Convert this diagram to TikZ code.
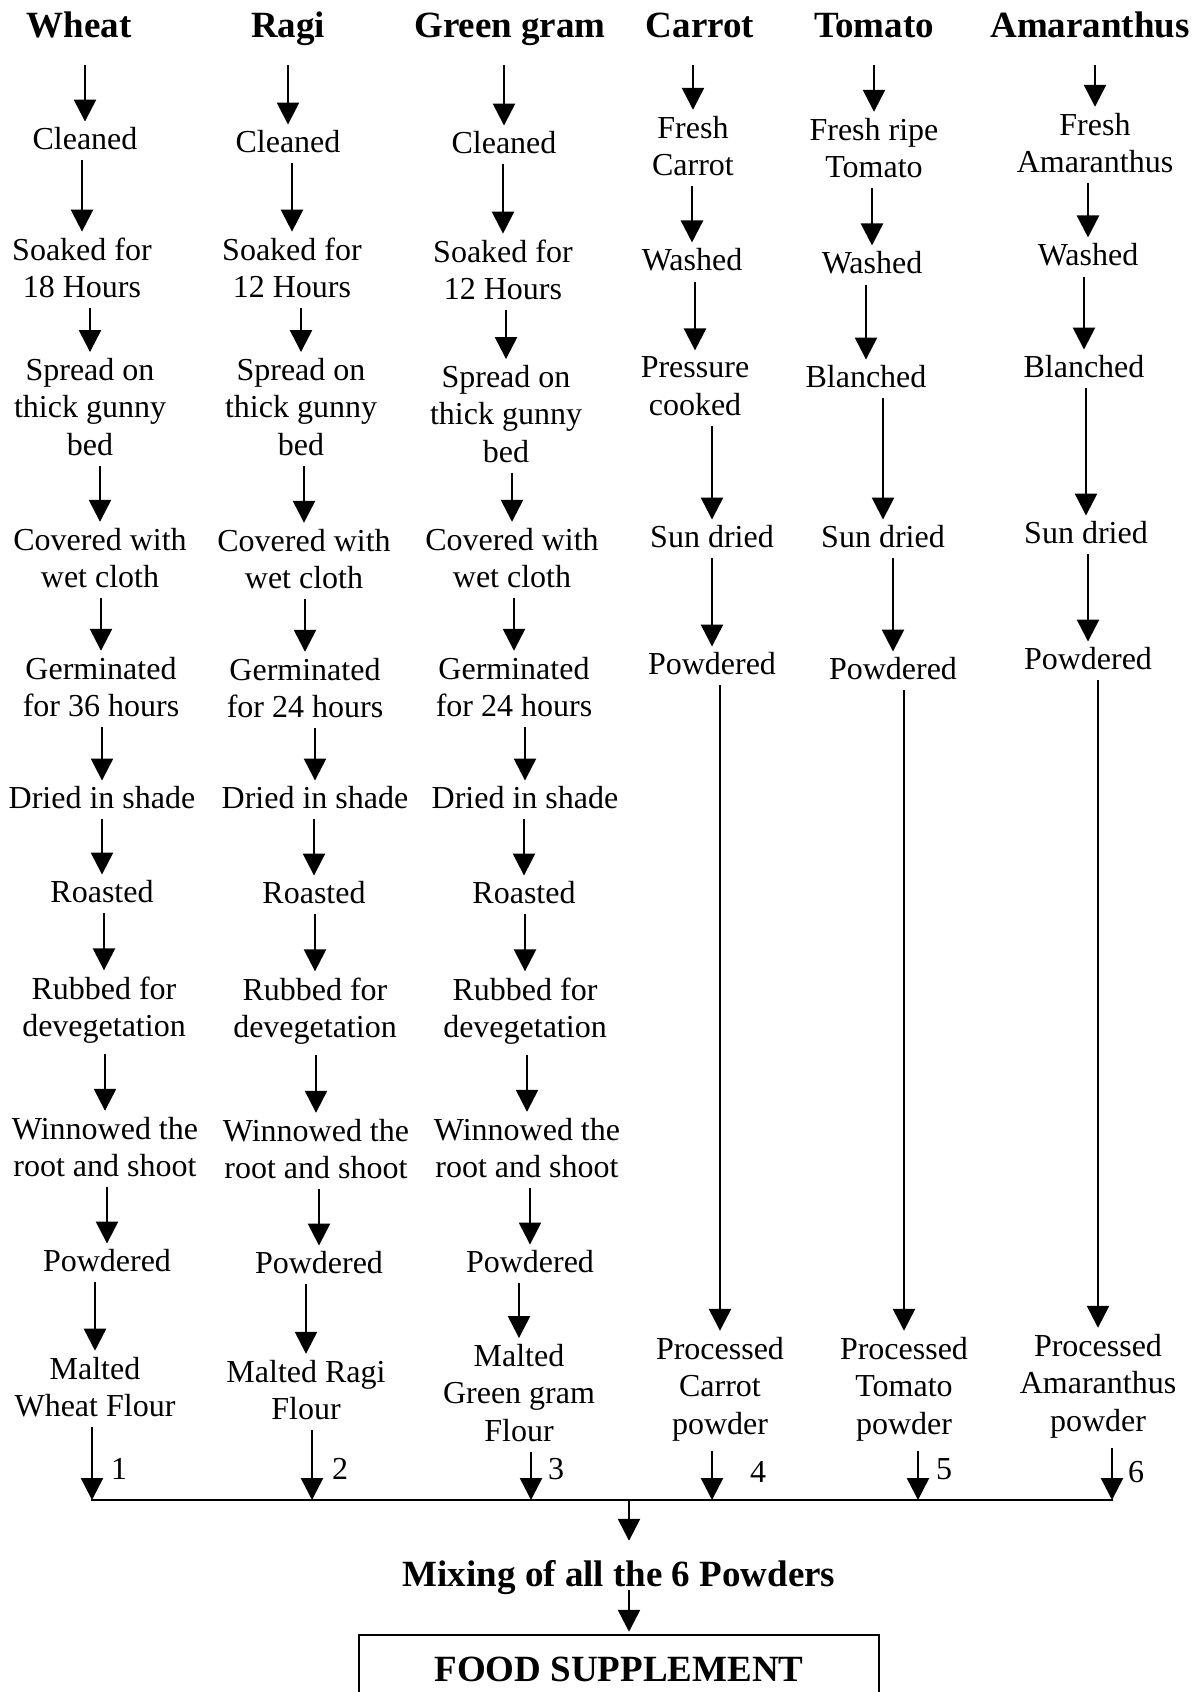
\documentclass[tikz,border=0pt]{standalone}
\usepackage{fontspec}
\setmainfont{Liberation Serif}
\usepackage{tikz}
\usetikzlibrary{arrows.meta}

\tikzset{
  stage/.style={align=center, inner sep=0pt, font=\fontsize{32}{37.5}\selectfont},
  crop/.style={inner sep=0pt, text height=26pt, text depth=0pt, font=\fontsize{37}{42}\selectfont\bfseries},
  num/.style={inner sep=0pt, font=\fontsize{32}{37.5}\selectfont},
  flow/.style={line width=2.5pt, -{Triangle[width=22pt,length=22pt]}, shorten <=10pt, shorten >=6pt},
}

\begin{document}
\begin{tikzpicture}[x=1pt, y=-1pt]
  \useasboundingbox (0,0) rectangle (1203,1692);

  % Headers
  \node[crop] (wh) at (79,24) {Wheat};
  \node[crop] (rh) at (288,24) {Ragi};
  \node[crop] (gh) at (510,24) {Green gram};
  \node[crop] (ch) at (700,24) {Carrot};
  \node[crop] (th) at (874,24) {Tomato};
  \node[crop] (ah) at (1090,24) {Amaranthus};

  % Wheat
  \node[stage] (w1) at (85,139) {Cleaned};
  \node[stage] (w2) at (82,268) {Soaked for\\18 Hours};
  \node[stage] (w3) at (90,407) {Spread on\\thick gunny\\bed};
  \node[stage] (w4) at (100,558) {Covered with\\wet cloth};
  \node[stage] (w5) at (101,687) {Germinated\\for 36 hours};
  \node[stage] (w6) at (102,798) {Dried in shade};
  \node[stage] (w7) at (102,892) {Roasted};
  \node[stage] (w8) at (104,1010) {Rubbed for\\devegetation};
  \node[stage] (w9) at (105,1147) {Winnowed the\\root and shoot};
  \node[stage] (w10) at (107,1261) {Powdered};
  \node[stage] (w11) at (95,1387) {Malted\\Wheat Flour};

  % Ragi
  \node[stage] (r1) at (288,142) {Cleaned};
  \node[stage] (r2) at (292,268) {Soaked for\\12 Hours};
  \node[stage] (r3) at (301,407) {Spread on\\thick gunny\\bed};
  \node[stage] (r4) at (304,559) {Covered with\\wet cloth};
  \node[stage] (r5) at (305,688) {Germinated\\for 24 hours};
  \node[stage] (r6) at (315,798) {Dried in shade};
  \node[stage] (r7) at (314,893) {Roasted};
  \node[stage] (r8) at (315,1011) {Rubbed for\\devegetation};
  \node[stage] (r9) at (316,1149) {Winnowed the\\root and shoot};
  \node[stage] (r10) at (319,1263) {Powdered};
  \node[stage] (r11) at (306,1390) {Malted Ragi\\Flour};

  % Green gram
  \node[stage] (g1) at (504,143) {Cleaned};
  \node[stage] (g2) at (503,270) {Soaked for\\12 Hours};
  \node[stage] (g3) at (506,414) {Spread on\\thick gunny\\bed};
  \node[stage] (g4) at (512,558) {Covered with\\wet cloth};
  \node[stage] (g5) at (514,687) {Germinated\\for 24 hours};
  \node[stage] (g6) at (525,798) {Dried in shade};
  \node[stage] (g7) at (524,893) {Roasted};
  \node[stage] (g8) at (525,1011) {Rubbed for\\devegetation};
  \node[stage] (g9) at (527,1148) {Winnowed the\\root and shoot};
  \node[stage] (g10) at (530,1262) {Powdered};
  \node[stage] (g11) at (519,1393) {Malted\\Green gram\\Flour};

  % Carrot
  \node[stage] (c1) at (693,146) {Fresh\\Carrot};
  \node[stage] (c2) at (692,260) {Washed};
  \node[stage] (c3) at (695,386) {Pressure\\cooked};
  \node[stage] (c4) at (712,537) {Sun dried};
  \node[stage] (c5) at (712,664) {Powdered};
  \node[stage] (c6) at (720,1389) {Processed\\Carrot\\powder};

  % Tomato
  \node[stage] (t1) at (874,148) {Fresh ripe\\Tomato};
  \node[stage] (t2) at (872,263) {Washed};
  \node[stage] (t3) at (866,377) {Blanched};
  \node[stage] (t4) at (883,537) {Sun dried};
  \node[stage] (t5) at (893,669) {Powdered};
  \node[stage] (t6) at (904,1389) {Processed\\Tomato\\powder};

  % Amaranthus
  \node[stage] (a1) at (1095,143) {Fresh\\Amaranthus};
  \node[stage] (a2) at (1088,255) {Washed};
  \node[stage] (a3) at (1084,367) {Blanched};
  \node[stage] (a4) at (1086,533) {Sun dried};
  \node[stage] (a5) at (1088,659) {Powdered};
  \node[stage] (a6) at (1098,1386) {Processed\\Amaranthus\\powder};

  % Wheat arrows
  \draw[flow, shorten <=28pt] (wh.south -| w1.north) -- (w1.north);
  \draw[flow] (w1.south -| w2.north) -- (w2.north);
  \draw[flow] (w2.south -| w3.north) -- (w3.north);
  \draw[flow] (w3.south -| w4.north) -- (w4.north);
  \draw[flow] (w4.south -| w5.north) -- (w5.north);
  \draw[flow] (w5.south -| w6.north) -- (w6.north);
  \draw[flow] (w6.south -| w7.north) -- (w7.north);
  \draw[flow] (w7.south -| w8.north) -- (w8.north);
  \draw[flow] (w8.south -| w9.north) -- (w9.north);
  \draw[flow] (w9.south -| w10.north) -- (w10.north);
  \draw[flow] (w10.south -| w11.north) -- (w11.north);

  % Ragi arrows
  \draw[flow, shorten <=28pt] (rh.south -| r1.north) -- (r1.north);
  \draw[flow] (r1.south -| r2.north) -- (r2.north);
  \draw[flow] (r2.south -| r3.north) -- (r3.north);
  \draw[flow] (r3.south -| r4.north) -- (r4.north);
  \draw[flow] (r4.south -| r5.north) -- (r5.north);
  \draw[flow] (r5.south -| r6.north) -- (r6.north);
  \draw[flow] (r6.south -| r7.north) -- (r7.north);
  \draw[flow] (r7.south -| r8.north) -- (r8.north);
  \draw[flow] (r8.south -| r9.north) -- (r9.north);
  \draw[flow] (r9.south -| r10.north) -- (r10.north);
  \draw[flow] (r10.south -| r11.north) -- (r11.north);

  % Green gram arrows
  \draw[flow, shorten <=28pt] (gh.south -| g1.north) -- (g1.north);
  \draw[flow] (g1.south -| g2.north) -- (g2.north);
  \draw[flow] (g2.south -| g3.north) -- (g3.north);
  \draw[flow] (g3.south -| g4.north) -- (g4.north);
  \draw[flow] (g4.south -| g5.north) -- (g5.north);
  \draw[flow] (g5.south -| g6.north) -- (g6.north);
  \draw[flow] (g6.south -| g7.north) -- (g7.north);
  \draw[flow] (g7.south -| g8.north) -- (g8.north);
  \draw[flow] (g8.south -| g9.north) -- (g9.north);
  \draw[flow] (g9.south -| g10.north) -- (g10.north);
  \draw[flow] (g10.south -| g11.north) -- (g11.north);

  % Carrot, Tomato, Amaranthus arrows
  \draw[flow, shorten <=28pt] (ch.south -| c1.north) -- (c1.north);
  \draw[flow] (c1.south -| c2.north) -- (c2.north);
  \draw[flow] (c2.south -| c3.north) -- (c3.north);
  \draw[flow] (c3.south -| c4.north) -- (c4.north);
  \draw[flow] (c4.south -| c5.north) -- (c5.north);
  \draw[flow] (c5.south -| c6.north) -- (c6.north);
  \draw[flow, shorten <=28pt] (th.south -| t1.north) -- (t1.north);
  \draw[flow] (t1.south -| t2.north) -- (t2.north);
  \draw[flow] (t2.south -| t3.north) -- (t3.north);
  \draw[flow] (t3.south -| t4.north) -- (t4.north);
  \draw[flow] (t4.south -| t5.north) -- (t5.north);
  \draw[flow] (t5.south -| t6.north) -- (t6.north);
  \draw[flow, shorten <=28pt] (ah.south -| a1.north) -- (a1.north);
  \draw[flow] (a1.south -| a2.north) -- (a2.north);
  \draw[flow] (a2.south -| a3.north) -- (a3.north);
  \draw[flow] (a3.south -| a4.north) -- (a4.north);
  \draw[flow] (a4.south -| a5.north) -- (a5.north);
  \draw[flow] (a5.south -| a6.north) -- (a6.north);

  % Collecting line
  \coordinate (j1) at (92,1500);
  \coordinate (j2) at (312,1500);
  \coordinate (j3) at (531,1500);
  \coordinate (j4) at (712,1500);
  \coordinate (j5) at (918,1500);
  \coordinate (j6) at (1112,1500);
  \coordinate (jm) at (629,1500);
  \draw[line width=2.8pt, line cap=rect] (j1) -- (j6);
  \draw[flow, shorten >=0pt] (w11.south -| j1) -- (j1);
  \draw[flow, shorten >=0pt] (r11.south -| j2) -- (j2);
  \draw[flow, shorten >=0pt] (g11.south -| j3) -- (j3);
  \draw[flow, shorten >=0pt] (c6.south -| j4) -- (j4);
  \draw[flow, shorten >=0pt] (t6.south -| j5) -- (j5);
  \draw[flow, shorten >=0pt] (a6.south -| j6) -- (j6);
  \node[num] (n1) at (119,1469) {1};
  \node[num] (n2) at (340,1469) {2};
  \node[num] (n3) at (556,1469) {3};
  \node[num] (n4) at (758,1472) {4};
  \node[num] (n5) at (944,1469) {5};
  \node[num] (n6) at (1136,1472) {6};

  % Mixing and result
  \node[crop] (mix) at (619,1573) {Mixing of all the 6 Powders};
  \node[crop, draw, line width=2.5pt, minimum width=520pt, minimum height=66pt] (supp) at (619,1668) {FOOD SUPPLEMENT};
  \draw[flow, shorten <=0pt, shorten >=19pt] (jm) -- (jm |- mix.north);
  \draw[flow, shorten <=4pt, shorten >=2pt] (mix.south -| jm) -- (jm |- supp.north);
\end{tikzpicture}
\end{document}
